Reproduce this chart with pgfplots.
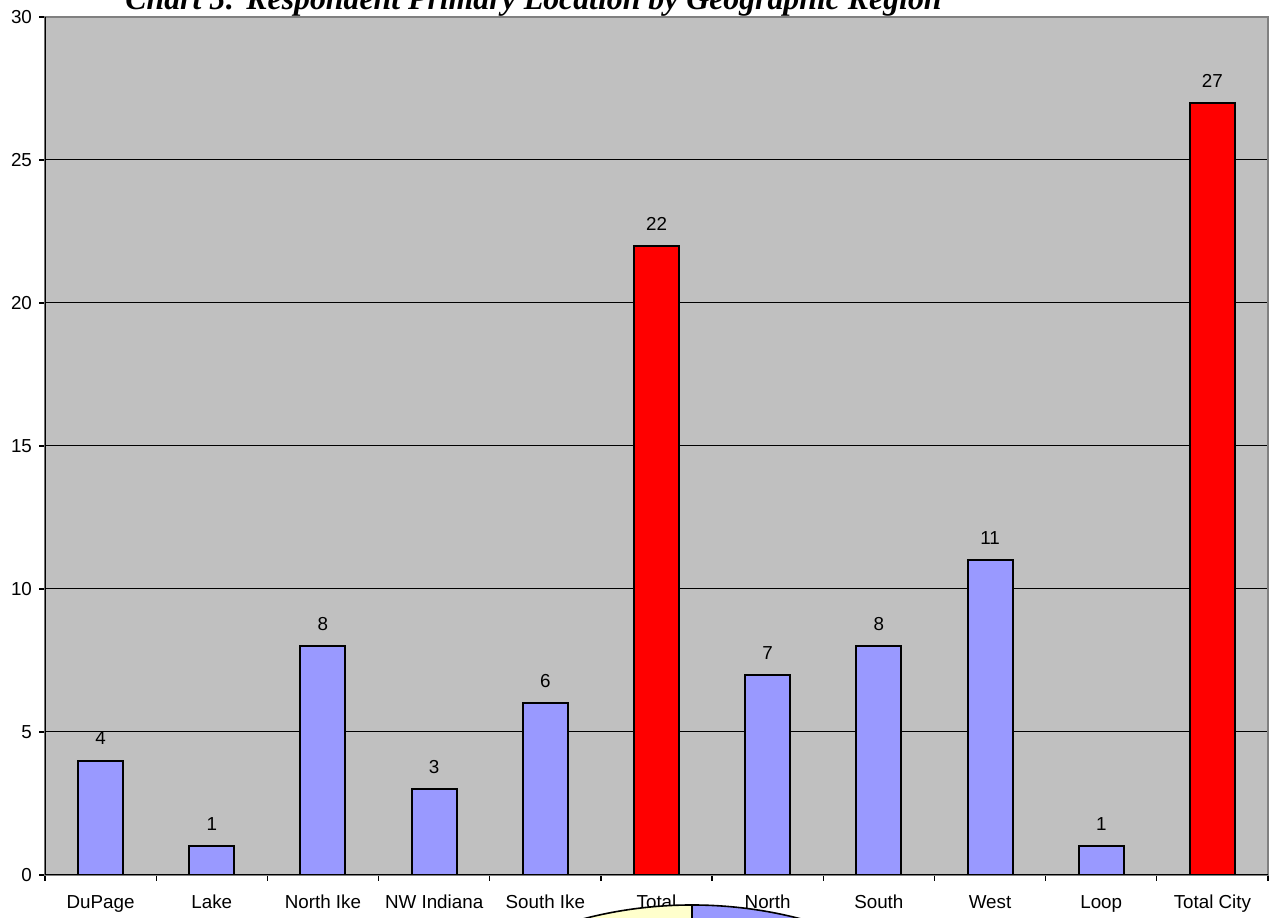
\documentclass[border=0pt]{standalone}
\usepackage{fontspec}
\setmainfont{Liberation Sans}
\newfontfamily\titlefont{Liberation Serif}
\usepackage{pgfplots}
\pgfplotsset{compat=1.18}
\definecolor{barblue}{HTML}{9999FF}
\definecolor{barred}{HTML}{FF0000}
\definecolor{plotgray}{HTML}{C0C0C0}
\definecolor{bordergray}{HTML}{808080}
\definecolor{pieyellow}{HTML}{FFFFCC}

\begin{document}
\begin{tikzpicture}[font=\fontsize{9.4}{11}\selectfont]
\begin{axis}[
    scale only axis,
    width=611.5pt, height=429pt,
    xmin=-0.5, xmax=10.5,
    ymin=0, ymax=30,
    axis background/.style={fill=plotgray},
    axis line style={bordergray, line width=0.8pt},
    ybar, bar width=22.5pt, bar shift=0pt,
    xtick={0,...,10},
    xticklabels={DuPage,Lake,North Ike,NW Indiana,South Ike,Total,North,South,West,Loop,Total City},
    xticklabel style={yshift=-3pt, text height=7pt, text depth=2pt},
    minor xtick={-0.5,0.5,...,10.5},
    ytick={0,5,...,30},
    xtick pos=lower, ytick pos=left,
    tick align=outside,
    major tick length=3pt, minor tick length=3pt,
    tick style={black, line width=0.6pt},
    major x tick style={draw=none},
    ymajorgrids,
    major grid style={black, line width=0.5pt},
    /pgf/number format/assume math mode=true,
    nodes near coords,
    every node near coord/.append style={font=\fontsize{9.4}{11}\selectfont, black, yshift=4pt},
    ]
    % suburbs and city regions
    \addplot[fill=barblue, draw=black, line width=1pt] coordinates {
        (0,4) (1,1) (2,8) (3,3) (4,6) (6,7) (7,8) (8,11) (9,1)
    };
    % totals
    \addplot[fill=barred, draw=black, line width=1pt] coordinates {
        (5,22) (10,27)
    };
    \coordinate (ll) at (rel axis cs:0,0);
    \coordinate (ur) at (rel axis cs:1,1);
    \coordinate (ul) at (rel axis cs:0,1);
    \draw[black, line width=0.8pt] (rel axis cs:0,1) -- (rel axis cs:0,0) -- (rel axis cs:1,0);
\end{axis}
% title, cut off at the top like the source
\node[anchor=base west, inner sep=0pt, font=\titlefont\bfseries\itshape\fontsize{15.9}{18}\selectfont]
    at ([shift={(40pt,3.5pt)}]ul) {Chart 5: Respondent Primary Location by Geographic Region};
% pie chart peeking in from below
\coordinate (pc) at ([shift={(323.5pt,-230pt)}]ll);
\filldraw[fill=pieyellow, draw=black, line width=0.8pt] (pc) -- ++(0,215pt) arc[start angle=90, end angle=180, radius=215pt] -- cycle;
\filldraw[fill=barblue, draw=black, line width=0.8pt] (pc) -- ++(215pt,0) arc[start angle=0, end angle=90, radius=215pt] -- cycle;
\pgfresetboundingbox
\useasboundingbox ([shift={(-22.5pt,-21.5pt)}]ll) rectangle ([shift={(1pt,8.5pt)}]ur);
\end{tikzpicture}
\end{document}
